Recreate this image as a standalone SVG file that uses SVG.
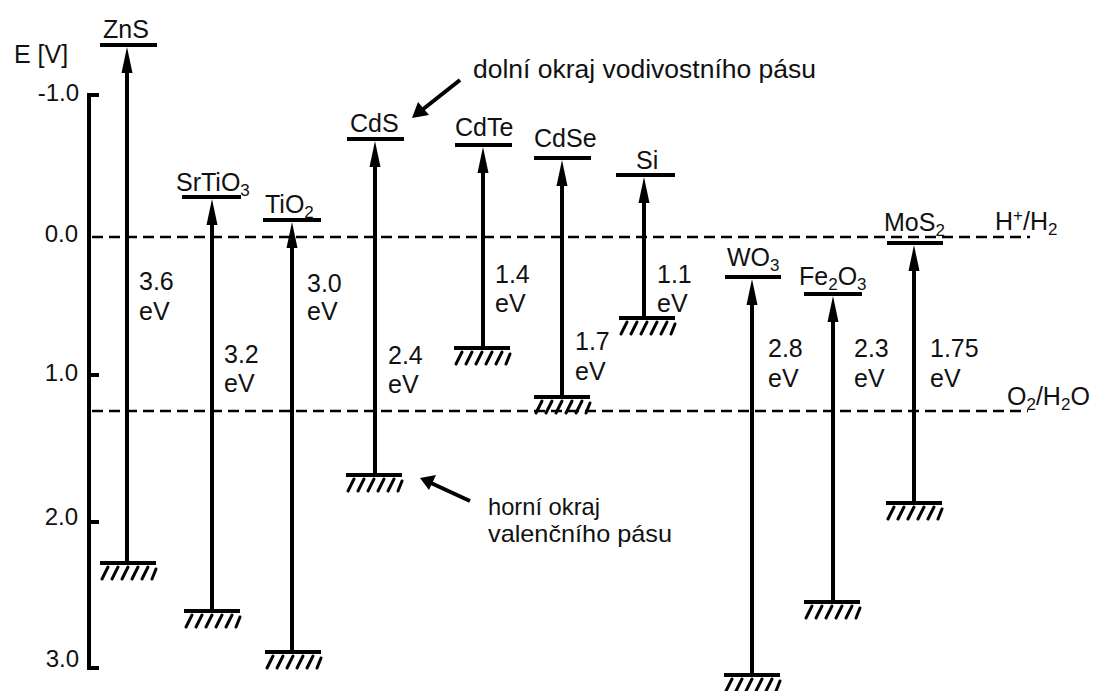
<svg xmlns="http://www.w3.org/2000/svg" xmlns:xlink="http://www.w3.org/1999/xlink" width="1098" height="691" viewBox="0 0 1098 691">
<style>
text{font-family:"Liberation Sans",Arial,sans-serif;fill:#111;}
.lbl{font-size:25px;}
.note{font-size:24px;}
.num{font-size:25px;}
.ax{font-size:24px;text-anchor:end;}
.sub{font-size:17px;}
.band{stroke:#000;stroke-width:4;fill:none;}
.shaft{stroke:#000;stroke-width:4;fill:none;}
.head{fill:#000;}
.dash{stroke:#000;stroke-width:2.5;stroke-dasharray:11 6;fill:none;}
.axis{stroke:#000;stroke-width:4;fill:none;}
</style>
<defs>
<g id="gnd">
<line x1="-28" y1="0" x2="28" y2="0" stroke="#000" stroke-width="4"/>
<g stroke="#000" stroke-width="3" stroke-linecap="round">
<line x1="-26" y1="16" x2="-20" y2="4"/>
<line x1="-16" y1="16" x2="-10" y2="4"/>
<line x1="-6" y1="16" x2="0" y2="4"/>
<line x1="4" y1="16" x2="10" y2="4"/>
<line x1="14" y1="16" x2="20" y2="4"/>
<line x1="24" y1="16" x2="28" y2="6"/>
</g>
</g>
<path id="ah" d="M0,0 L-5.5,26 L5.5,26 Z"/>
</defs>
<rect width="1098" height="691" fill="#fff"/>

<g id="axis">
<text x="14" y="63" class="lbl">E [V]</text>
<line class="axis" x1="89" y1="93" x2="89" y2="670"/>
<path class="axis" d="M87,95 H99 M89,375 H99 M89,522 H99 M87,668 H99"/>
<text x="79" y="101" class="ax">-1.0</text>
<text x="78" y="242" class="ax">0.0</text>
<text x="78" y="381" class="ax">1.0</text>
<text x="78" y="525" class="ax">2.0</text>
<text x="79" y="667" class="ax">3.0</text>
</g>

<g id="redox">
<line class="dash" x1="92" y1="237" x2="1030" y2="237"/>
<line class="dash" x1="92" y1="411" x2="1028" y2="411"/>
<text x="995" y="230" class="lbl">H<tspan class="sub" dy="-9">+</tspan><tspan dy="9">/H</tspan><tspan class="sub" dy="5">2</tspan></text>
<text x="1007" y="405" class="lbl">O<tspan class="sub" dy="5">2</tspan><tspan dy="-5">/H</tspan><tspan class="sub" dy="5">2</tspan><tspan dy="-5">O</tspan></text>
</g>

<g id="connectors">
<line class="shaft" x1="127" y1="563" x2="127" y2="72"/><use xlink:href="#ah" class="head" x="127" y="47"/>
<line class="shaft" x1="212" y1="611" x2="212" y2="224"/><use xlink:href="#ah" class="head" x="212" y="199"/>
<line class="shaft" x1="292" y1="652" x2="292" y2="247"/><use xlink:href="#ah" class="head" x="292" y="222"/>
<line class="shaft" x1="375" y1="475" x2="375" y2="166"/><use xlink:href="#ah" class="head" x="375" y="141"/>
<line class="shaft" x1="483" y1="348" x2="483" y2="172"/><use xlink:href="#ah" class="head" x="483" y="147"/>
<line class="shaft" x1="562" y1="397" x2="562" y2="185"/><use xlink:href="#ah" class="head" x="562" y="160"/>
<line class="shaft" x1="644" y1="318" x2="644" y2="202"/><use xlink:href="#ah" class="head" x="644" y="177"/>
<line class="shaft" x1="752" y1="675" x2="752" y2="304"/><use xlink:href="#ah" class="head" x="752" y="279"/>
<line class="shaft" x1="833" y1="602" x2="833" y2="321"/><use xlink:href="#ah" class="head" x="833" y="296"/>
<line class="shaft" x1="914" y1="503" x2="914" y2="270"/><use xlink:href="#ah" class="head" x="914" y="245"/>
</g>

<g id="ZnS">
<line class="band" x1="100" y1="45" x2="157" y2="45"/>
<text x="103" y="38" class="lbl">ZnS</text>
<use xlink:href="#gnd" x="128" y="563"/>
<text x="139" y="290" class="num">3.6</text><text x="139" y="320" class="num">eV</text>
</g>

<g id="SrTiO3">
<line class="band" x1="182" y1="197" x2="241" y2="197"/>
<text x="176" y="191" class="lbl">SrTiO<tspan class="sub" dy="5">3</tspan></text>
<use xlink:href="#gnd" x="212" y="611"/>
<text x="224" y="363" class="num">3.2</text><text x="224" y="392" class="num">eV</text>
</g>

<g id="TiO2">
<line class="band" x1="263" y1="220" x2="321" y2="220"/>
<text x="265" y="213" class="lbl">TiO<tspan class="sub" dy="5">2</tspan></text>
<use xlink:href="#gnd" x="293" y="652"/>
<text x="307" y="292" class="num">3.0</text><text x="307" y="320" class="num">eV</text>
</g>

<g id="CdS">
<line class="band" x1="347" y1="139" x2="404" y2="139"/>
<text x="350" y="132" class="lbl">CdS</text>
<use xlink:href="#gnd" x="374" y="475"/>
<text x="388" y="364" class="num">2.4</text><text x="388" y="393" class="num">eV</text>
</g>

<g id="CdTe">
<line class="band" x1="455" y1="145" x2="512" y2="145"/>
<text x="455" y="136" class="lbl">CdTe</text>
<use xlink:href="#gnd" x="482" y="348"/>
<text x="495" y="283" class="num">1.4</text><text x="495" y="312" class="num">eV</text>
</g>

<g id="CdSe">
<line class="band" x1="534" y1="158" x2="591" y2="158"/>
<text x="534" y="147" class="lbl">CdSe</text>
<use xlink:href="#gnd" x="562" y="397"/>
<text x="575" y="350" class="num">1.7</text><text x="575" y="380" class="num">eV</text>
</g>

<g id="Si">
<line class="band" x1="616" y1="175" x2="675" y2="175"/>
<text x="636" y="169" class="lbl">Si</text>
<use xlink:href="#gnd" x="647" y="318"/>
<text x="657" y="283" class="num">1.1</text><text x="657" y="312" class="num">eV</text>
</g>

<g id="WO3">
<line class="band" x1="725" y1="277" x2="781" y2="277"/>
<text x="727" y="266" class="lbl">WO<tspan class="sub" dy="5">3</tspan></text>
<use xlink:href="#gnd" x="752" y="675"/>
<text x="768" y="357" class="num">2.8</text><text x="768" y="387" class="num">eV</text>
</g>

<g id="Fe2O3">
<line class="band" x1="804" y1="294" x2="862" y2="294"/>
<text x="799" y="285" class="lbl">Fe<tspan class="sub" dy="5">2</tspan><tspan dy="-5">O</tspan><tspan class="sub" dy="5">3</tspan></text>
<use xlink:href="#gnd" x="832" y="602"/>
<text x="854" y="357" class="num">2.3</text><text x="854" y="387" class="num">eV</text>
</g>

<g id="MoS2">
<line class="band" x1="887" y1="243" x2="943" y2="243"/>
<text x="884" y="231" class="lbl">MoS<tspan class="sub" dy="5">2</tspan></text>
<use xlink:href="#gnd" x="914" y="503"/>
<text x="930" y="357" class="num">1.75</text><text x="930" y="387" class="num">eV</text>
</g>

<g id="note-cb">
<text x="473" y="78" class="lbl" textLength="343" lengthAdjust="spacingAndGlyphs">dolní okraj vodivostního pásu</text>
<line x1="460" y1="80" x2="422" y2="110" stroke="#000" stroke-width="4"/>
<path d="M412,118 L418,102 L429,115 Z" fill="#000"/>
</g>

<g id="note-vb">
<text x="488" y="515" class="note" textLength="112" lengthAdjust="spacingAndGlyphs">horní okraj</text>
<text x="488" y="542" class="note" textLength="184" lengthAdjust="spacingAndGlyphs">valenčního pásu</text>
<line x1="470" y1="501" x2="431" y2="483" stroke="#000" stroke-width="4"/>
<path d="M420,478 L436,475 L429,490 Z" fill="#000"/>
</g>
</svg>
